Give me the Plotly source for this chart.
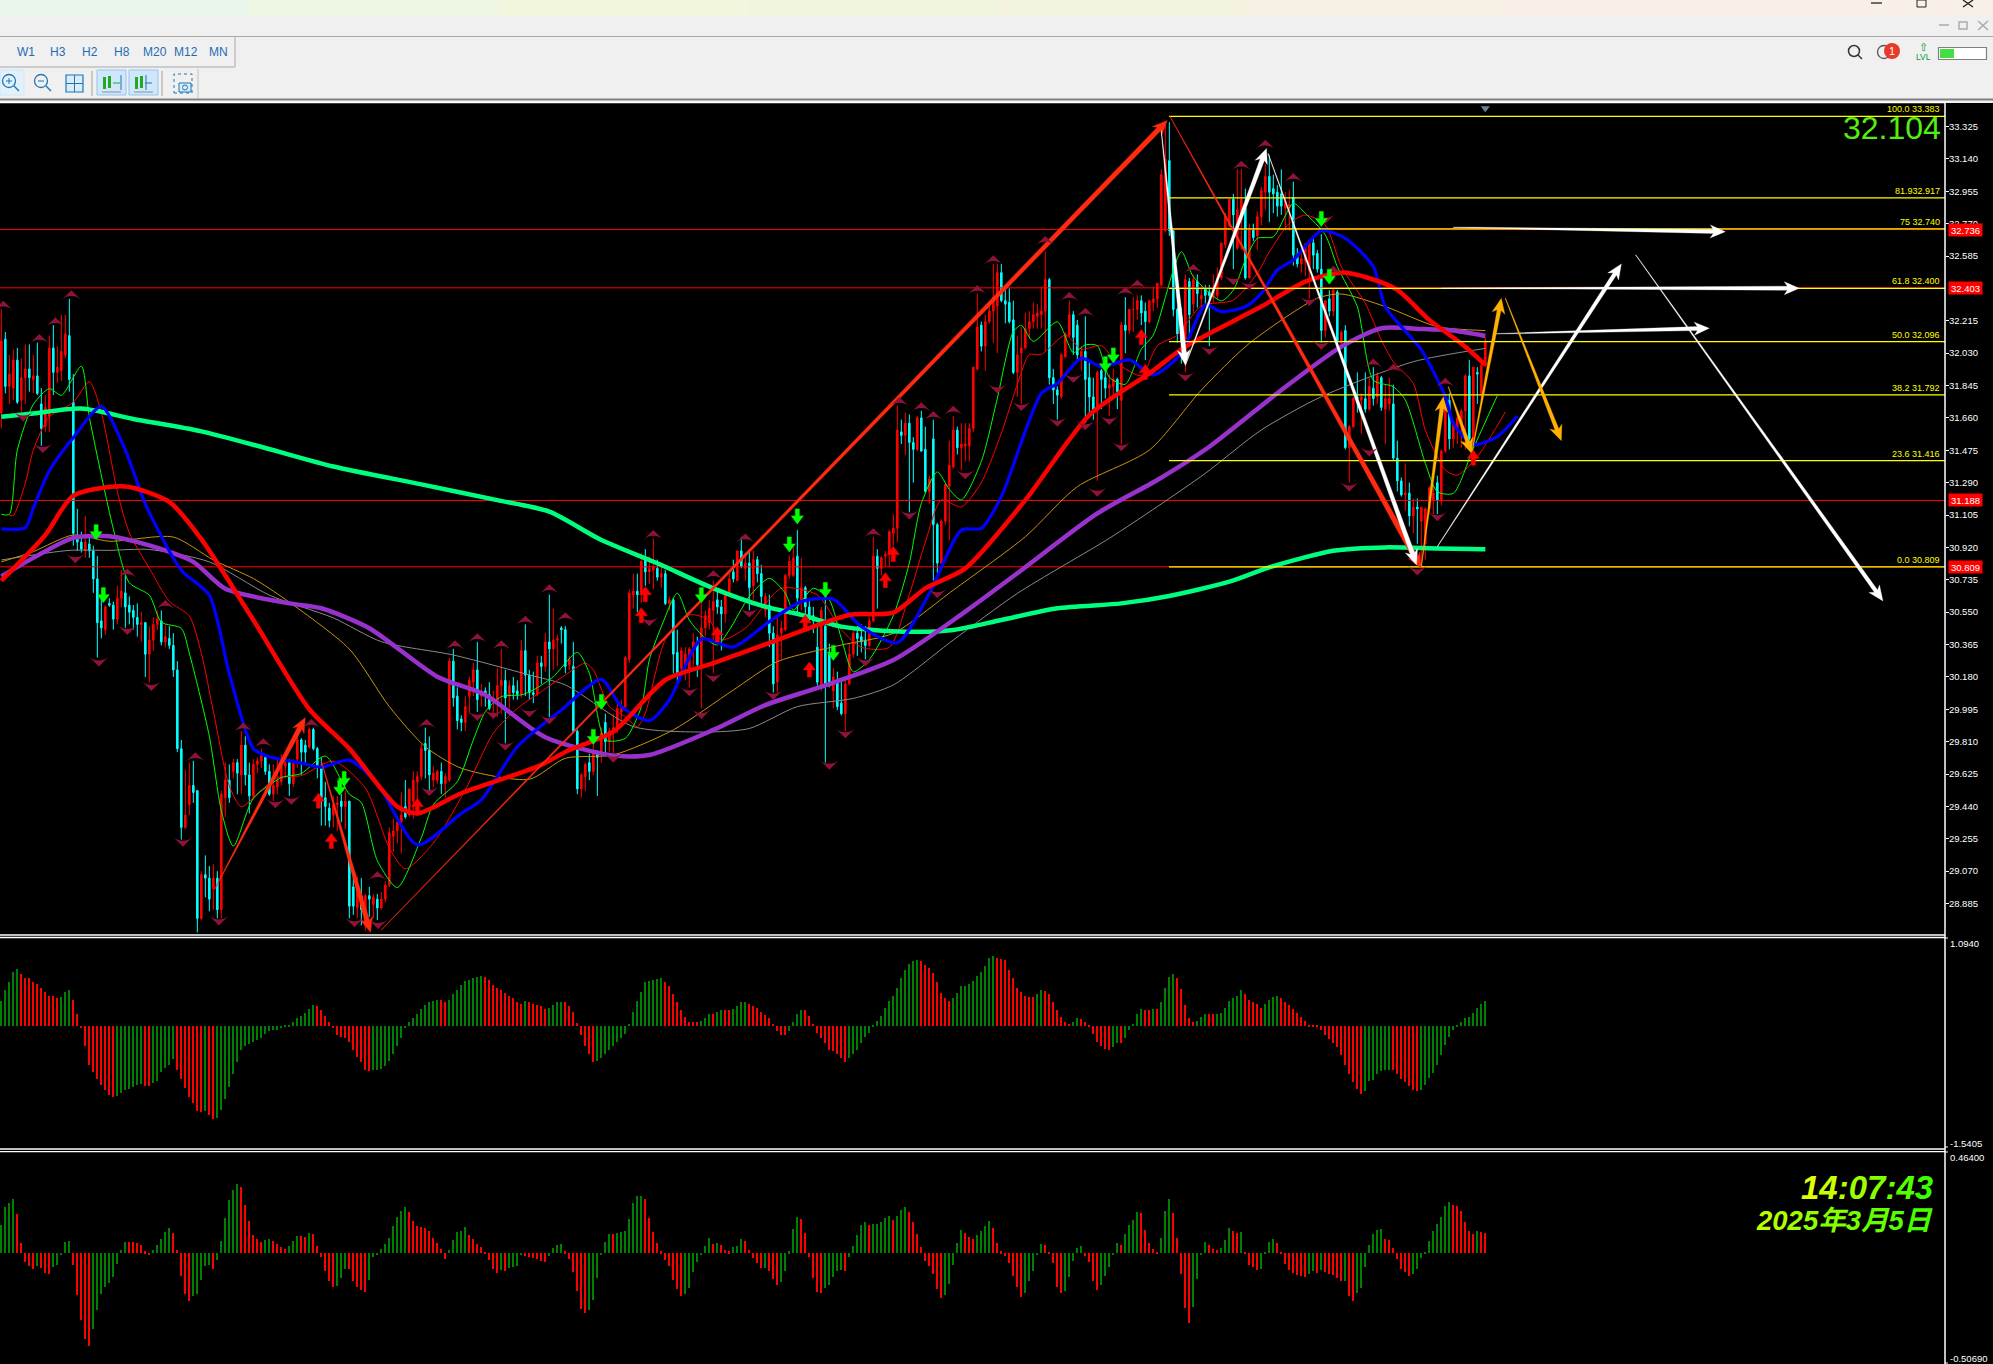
import plotly.graph_objects as go
import math

W, H = 1993, 1364
# ---------- candle data (price x 100), one row = 10 bars ----------
high = [
3228,3215,3202,3205,3206,3200,3208,3208,3202,3209,
3183,3179,3213,3219,3207,3225,3225,3234,3191,3114,
3101,3110,3098,3093,3087,3063,3059,3063,3061,3070,
3079,3076,3064,3059,3060,3055,3049,3047,3052,3056,
3056,3048,3047,3043,3027,2982,2965,2969,2970,2953,
2907,2916,2910,2911,2907,2953,2969,2968,2971,2971,
2987,2984,2969,2971,2972,2977,2974,2968,2968,2972,
2974,2972,2971,2971,2984,2983,2982,2989,2989,2978,
2972,2958,2946,2950,2950,2951,2953,2947,2906,2904,
2903,2894,2898,2894,2894,2895,2901,2932,2937,2937,
2952,2959,2954,2964,2964,2980,2989,2984,2967,2965,
2969,2963,3029,3034,3012,2996,3007,3018,3026,3038,
3014,3012,3015,3010,3023,3034,3022,3016,3018,3016,
3039,3048,3022,3021,3030,3030,3043,3065,3057,3042,
3047,3047,3030,3038,2988,2963,2969,2974,2982,2976,
2989,2997,2989,2997,3005,3005,3030,3068,3077,3077,
3089,3091,3087,3097,3085,3081,3079,3064,3063,3045,
3035,3035,3035,3043,3041,3060,3056,3062,3073,3067,
3062,3066,3077,3085,3090,3098,3089,3090,3090,3087,
3082,3066,3065,3047,3053,3050,3077,3087,3092,3102,
3086,3070,3062,3058,3047,3058,3062,3037,3023,3021,
3015,3017,3037,3047,3047,3048,3047,3052,3098,3091,
3087,3090,3102,3111,3173,3165,3169,3168,3155,3167,
3170,3161,3133,3165,3106,3108,3128,3153,3167,3161,
3163,3163,3163,3195,3237,3221,3225,3232,3254,3254,
3254,3239,3240,3233,3213,3218,3226,3227,3232,3231,
3241,3261,3246,3194,3184,3203,3215,3233,3227,3222,
3207,3224,3198,3189,3193,3194,3195,3191,3194,3189,
3221,3235,3228,3235,3236,3236,3232,3233,3241,3243,
3308,3335,3335,3273,3229,3229,3248,3246,3248,3248,
3242,3242,3242,3248,3252,3266,3283,3291,3294,3308,
3308,3297,3277,3277,3284,3298,3311,3316,3305,3299,
3308,3295,3296,3301,3263,3260,3266,3268,3270,3262,
3271,3233,3239,3240,3239,3216,3219,3162,3178,3192,
3180,3192,3189,3195,3192,3190,3185,3189,3185,3153,
3132,3140,3129,3120,3120,3115,3115,3127,3127,3133,
3148,3172,3180,3165,3168,3171,3191,3199,3195,3195,
3199,3212]
body_top = [
3210,3211,3191,3199,3199,3189,3194,3194,3190,3190,
3174,3172,3206,3206,3195,3204,3214,3213,3175,3097,
3095,3095,3094,3090,3074,3050,3058,3060,3059,3063,
3067,3066,3059,3056,3052,3049,3049,3039,3048,3051,
3050,3041,3040,3036,3022,2977,2939,2956,2956,2953,
2905,2905,2903,2903,2903,2951,2959,2959,2969,2969,
2979,2979,2962,2968,2970,2973,2972,2964,2956,2959,
2967,2969,2969,2970,2982,2982,2979,2988,2988,2977,
2966,2949,2943,2945,2946,2947,2947,2947,2898,2898,
2893,2893,2893,2892,2891,2891,2899,2929,2930,2935,
2939,2944,2954,2959,2961,2977,2980,2976,2963,2964,
2964,2961,3027,3027,3007,2994,3001,3016,3022,3022,
3009,3010,3008,3006,3013,3016,3016,3013,3013,3010,
3033,3033,3019,3009,3026,3026,3038,3038,3039,3040,
3046,3045,3028,3024,2987,2962,2968,2969,2975,2974,
2986,2992,2987,2989,3000,3000,3029,3066,3067,3067,
3084,3085,3080,3081,3080,3077,3077,3062,3062,3032,
3033,3031,3034,3038,3038,3046,3053,3057,3061,3062,
3058,3065,3074,3078,3090,3090,3083,3083,3085,3085,
3077,3064,3059,3043,3042,3046,3076,3084,3086,3087,
3069,3069,3058,3053,3035,3056,3047,3032,3018,3015,
3003,3014,3031,3043,3043,3041,3039,3050,3087,3087,
3086,3088,3101,3103,3159,3158,3163,3163,3152,3166,
3166,3148,3131,3154,3105,3107,3128,3139,3159,3159,
3151,3151,3160,3195,3218,3219,3221,3227,3235,3249,
3249,3233,3232,3222,3202,3206,3217,3221,3225,3226,
3227,3245,3245,3189,3182,3202,3214,3225,3225,3219,
3204,3204,3189,3178,3192,3193,3189,3185,3188,3188,
3219,3219,3228,3228,3233,3233,3227,3233,3234,3243,
3305,3314,3313,3273,3228,3224,3245,3244,3245,3244,
3236,3240,3238,3239,3246,3266,3281,3291,3291,3285,
3291,3286,3274,3274,3281,3296,3304,3304,3297,3295,
3294,3290,3288,3292,3259,3257,3265,3267,3266,3260,
3251,3233,3234,3239,3238,3215,3216,3161,3177,3178,
3178,3177,3184,3183,3190,3189,3177,3177,3174,3143,
3130,3123,3123,3115,3115,3115,3114,3126,3123,3129,
3147,3171,3176,3164,3166,3170,3190,3190,3195,3192,
3196,3210]
body_bot = [
3169,3184,3184,3183,3175,3176,3189,3189,3188,3180,
3160,3161,3167,3192,3192,3193,3202,3188,3100,3095,
3091,3090,3090,3074,3049,3046,3045,3059,3051,3051,
3063,3058,3055,3052,3048,3048,3031,3031,3039,3048,
3038,3038,3036,3022,2977,2932,2932,2945,2952,2880,
2880,2903,2891,2897,2885,2885,2949,2949,2964,2963,
2962,2962,2950,2950,2968,2970,2964,2951,2951,2955,
2958,2967,2957,2957,2971,2975,2975,2978,2977,2966,
2949,2944,2936,2939,2945,2944,2944,2887,2887,2886,
2885,2876,2891,2888,2886,2886,2891,2899,2927,2930,
2935,2938,2939,2947,2958,2961,2976,2962,2959,2959,
2957,2957,2959,3006,2993,2992,2992,3007,3015,3005,
3007,3008,3000,3004,3003,3013,3006,3007,3009,3008,
3008,3019,3009,3008,3008,3024,3024,3034,3034,3039,
3045,3024,3025,2987,2954,2954,2961,2964,2964,2972,
2975,2981,2981,2986,2989,2998,3001,3028,3065,3065,
3066,3078,3078,3079,3075,3075,3060,3060,3031,3019,
3023,3025,3022,3033,3025,3025,3046,3049,3056,3058,
3054,3054,3066,3074,3073,3081,3080,3069,3070,3077,
3064,3056,3043,3014,3015,3043,3045,3076,3076,3063,
3061,3058,3053,3050,3015,3013,3014,3013,3010,3001,
2997,2997,3014,3031,3040,3038,3036,3036,3050,3080,
3080,3087,3088,3100,3103,3156,3156,3152,3148,3148,
3147,3124,3124,3105,3083,3083,3107,3127,3138,3149,
3149,3150,3150,3160,3194,3207,3207,3221,3227,3230,
3233,3231,3221,3192,3192,3203,3206,3217,3221,3224,
3225,3227,3189,3182,3179,3178,3201,3213,3212,3202,
3201,3188,3178,3171,3171,3188,3183,3183,3184,3181,
3176,3216,3216,3228,3228,3226,3221,3221,3232,3234,
3242,3273,3273,3228,3214,3210,3201,3225,3231,3237,
3234,3236,3236,3235,3236,3246,3265,3276,3282,3263,
3279,3246,3246,3269,3270,3281,3295,3295,3294,3287,
3287,3286,3286,3259,3254,3254,3256,3250,3259,3251,
3216,3216,3227,3227,3210,3209,3149,3149,3161,3177,
3176,3171,3171,3177,3178,3172,3171,3174,3143,3130,
3122,3122,3110,3110,3114,3107,3094,3114,3119,3119,
3119,3147,3154,3154,3159,3162,3170,3154,3153,3191,
3180,3196]
low = [
3160,3180,3174,3176,3174,3169,3174,3181,3180,3179,
3150,3158,3158,3179,3186,3187,3200,3181,3093,3090,
3089,3086,3086,3066,3029,3040,3042,3058,3045,3048,
3058,3046,3048,3045,3041,3038,3018,3015,3033,3045,
3036,3035,3034,3018,2975,2925,2931,2939,2946,2872,
2879,2892,2884,2885,2880,2880,2938,2946,2960,2951,
2951,2956,2940,2948,2963,2966,2962,2950,2947,2951,
2956,2960,2950,2955,2966,2962,2969,2977,2976,2960,
2933,2933,2932,2932,2930,2935,2931,2880,2882,2880,
2876,2873,2881,2880,2879,2885,2889,2898,2918,2923,
2917,2937,2938,2937,2946,2959,2960,2953,2955,2957,
2951,2949,2958,3001,2988,2987,2987,2997,3007,2998,
3001,3001,2999,2995,2995,2997,2980,3000,3005,3005,
3006,3007,3005,3003,3007,3014,3021,2995,3022,3024,
3037,3020,3022,2986,2951,2949,2953,2959,2962,2950,
2969,2974,2975,2974,2986,2990,2999,3026,3057,3055,
3060,3070,3071,3068,3073,3069,3059,3056,3020,3015,
3019,3016,3012,3024,3018,3000,3041,3045,3020,3054,
3033,3049,3065,3072,3073,3080,3073,3056,3062,3072,
3060,3052,3035,3009,3009,3028,3044,3074,3075,3055,
3056,3054,3049,3043,3013,3010,2969,3012,3000,2999,
2996,2987,3013,3029,3030,3032,3028,3035,3049,3057,
3076,3081,3081,3093,3095,3151,3145,3112,3129,3147,
3147,3123,3117,3073,3077,3081,3105,3096,3137,3145,
3136,3141,3141,3158,3193,3204,3193,3220,3209,3203,
3232,3220,3220,3191,3178,3174,3205,3211,3217,3217,
3217,3204,3185,3174,3165,3177,3200,3212,3202,3199,
3193,3163,3167,3165,3130,3171,3177,3167,3179,3171,
3151,3203,3214,3215,3222,3219,3199,3220,3227,3229,
3241,3272,3270,3224,3209,3197,3192,3212,3226,3229,
3228,3231,3207,3232,3234,3245,3263,3275,3251,3262,
3262,3245,3246,3267,3262,3276,3285,3278,3283,3281,
3282,3273,3273,3253,3252,3249,3247,3234,3251,3249,
3209,3212,3224,3224,3207,3207,3148,3129,3160,3169,
3157,3169,3170,3173,3174,3170,3151,3170,3142,3124,
3121,3113,3104,3100,3094,3081,3085,3111,3111,3111,
3116,3146,3148,3149,3151,3149,3148,3151,3151,3174,
3174,3195]
candle_colour = ("rcrrcrrcrc" "crrcrrrccc" "crccccrccr" "rccccrcrrr" "crccccrrcc"
    "rccrcrrcrc" "rccrrrccrr" "rrcrrccrcc" "cccrrcrccr" "crcrcrrrrr" "rcrrrrccrr"
    "crrcccrrrc" "rccrrrcrcc" "rcccrcrcrr" "ccrccrrcrc" "rcrrrrrrrc" "rcrrcrcrcc"
    "rrrrcrrrrc" "crrcrcrcrc" "crccrrrrrc" "rccccrccrc" "crrrcccrrc" "rrrrrcrccr"
    "ccrccrrrrc" "rrrrrcrrrr" "ccccrrrrrr" "rrcccrrrcc" "rcccrccrrc" "rcrrrccrrr"
    "rrccccrcrc" "rccrrrrrcr" "rcrcrrrccc" "crrccrrrcc" "crcrcrcrrc" "rcrcrcrrcc"
    "crcrcrrrrc" "rrcrrrrcrc" "rr")

# ---------- indicator histograms ----------
macd_hist = [
31,45,55,67,71,65,60,59,55,52,47,42,37,37,34,36,42,45,32,15,
-3,-26,-49,-58,-67,-74,-81,-87,-89,-88,-84,-81,-79,-77,-74,-73,-75,-76,-72,-69,
-58,-53,-49,-42,-55,-67,-78,-89,-97,-106,-108,-107,-111,-117,-115,-105,-92,-77,-61,-45,
-31,-26,-23,-21,-18,-15,-10,-7,-6,-5,-3,-2,-1,4,9,12,16,21,26,24,
20,12,4,-3,-12,-14,-15,-20,-30,-39,-46,-56,-57,-56,-55,-54,-50,-44,-35,-25,
-15,-3,4,9,14,21,26,30,31,32,32,29,32,39,45,51,56,57,60,61,
62,61,57,51,47,45,41,37,35,29,27,31,29,27,26,24,21,22,26,29,
30,29,25,17,3,-12,-26,-36,-45,-44,-40,-35,-30,-26,-21,-16,-10,1,17,31,
42,54,56,57,58,59,54,50,40,30,20,11,5,5,5,6,10,15,15,17,
19,19,19,21,24,29,30,27,25,22,17,13,9,1,-7,-12,-12,-7,4,14,
19,19,12,1,-9,-15,-22,-30,-32,-35,-40,-45,-40,-36,-30,-22,-14,-9,-1,6,
12,22,31,37,47,59,70,77,81,82,81,76,72,66,54,41,35,31,34,41,
49,50,52,56,62,67,75,84,87,85,83,82,70,60,47,42,37,36,36,39,
44,43,40,30,20,11,4,2,5,9,8,4,-2,-11,-21,-26,-29,-30,-27,-22,
-22,-15,-6,2,14,21,20,20,21,21,30,47,61,64,59,46,26,9,5,6,
11,14,14,14,15,16,22,31,34,37,44,40,32,30,27,22,27,32,36,37,
35,30,26,21,16,11,6,-1,-1,-2,-6,-12,-17,-22,-27,-37,-49,-60,-71,-79,
-85,-82,-69,-68,-60,-57,-56,-55,-56,-60,-67,-70,-76,-81,-82,-81,-74,-65,-59,-49,
-37,-24,-14,-5,-2,5,9,11,16,22,27,31]
osc_hist = [
128,211,229,247,179,46,-41,-60,-73,-60,-69,-92,-96,-64,-55,-9,50,55,-55,-192,
-307,-394,-426,-348,-261,-186,-156,-137,-110,-50,14,50,50,50,49,37,9,-5,14,37,
64,96,115,92,14,-105,-188,-220,-197,-188,-124,-60,-55,-73,-32,55,160,243,289,316,
302,220,147,82,64,50,60,64,55,41,27,18,32,55,78,78,77,92,87,32,
-18,-82,-128,-156,-151,-115,-73,-73,-128,-156,-169,-179,-124,-18,-9,18,41,69,124,165,
192,211,188,147,124,119,115,101,69,46,18,-27,14,60,96,101,119,82,64,41,
27,5,-32,-73,-92,-78,-79,-69,-64,-60,-9,-14,-18,-23,-27,-37,-41,-14,23,37,
41,9,-27,-87,-174,-257,-273,-260,-215,-115,-9,50,87,87,92,96,101,156,229,261,
262,247,160,96,46,9,-32,-60,-124,-165,-197,-188,-160,-87,-41,-5,32,69,41,46,
37,14,9,27,32,64,55,14,-23,-46,-69,-68,-82,-119,-147,-133,-82,9,110,165,
156,92,-18,-115,-179,-183,-160,-147,-110,-82,-78,-82,-18,32,82,128,142,128,133,134,
142,160,169,151,169,197,211,188,142,87,27,-37,-60,-96,-165,-206,-192,-142,-55,46,
105,92,73,64,82,101,124,147,115,46,9,-14,-46,-105,-156,-202,-183,-128,-82,-9,
41,37,5,-46,-156,-183,-174,-110,-37,23,32,-14,-41,-128,-169,-147,-105,-64,-5,46,
37,87,128,151,188,183,105,46,18,5,69,192,247,183,69,-96,-252,-321,-247,-119,
-9,50,37,18,14,23,60,115,101,92,96,5,-55,-64,-78,-73,5,50,64,46,
5,-50,-78,-92,-101,-105,-110,-96,-82,-92,-78,-87,-96,-101,-115,-128,-127,-197,-220,-183,
-160,-64,37,87,105,110,64,63,23,-27,-73,-87,-105,-96,-73,-23,5,55,101,133,
165,215,234,220,215,192,142,101,87,101,96,92]

# ---------- moving averages: bar index / price ----------
ma_green_i = [0,8,20,33,50,66,83,105,124,137,150,164,178,191,200,210,226,238,250,264,280,292,307,317,333,346,359,371]
ma_green_p = [31.666,31.685,31.713,31.654,31.583,31.488,31.382,31.280,31.19,31.124,30.962,30.829,30.686,30.581,30.534,30.467,30.438,30.448,30.505,30.572,30.60,30.642,30.724,30.806,30.901,30.920,30.914,30.909]
ma_purple_i = [0,8,18,27,37,48,56,72,80,92,109,121,136,153,162,178,191,205,223,241,254,274,289,302,320,335,345,355,363,371]
ma_purple_p = [30.754,30.860,30.974,30.984,30.931,30.837,30.683,30.600,30.572,30.458,30.181,30.077,29.835,29.730,29.734,29.877,30.019,30.124,30.276,30.553,30.772,31.114,31.305,31.495,31.819,32.067,32.172,32.168,32.159,32.128]
ma_red_i = [0,11,18,31,42,50,63,77,87,99,104,115,134,142,153,166,178,194,212,223,231,241,256,272,287,296,315,326,335,342,349,357,366,371]
ma_red_p = [30.730,30.991,31.216,31.268,31.180,30.967,30.505,29.995,29.770,29.439,29.40,29.515,29.667,29.762,29.867,30.162,30.258,30.391,30.534,30.547,30.686,30.80,31.19,31.676,31.914,32.067,32.296,32.439,32.490,32.458,32.391,32.220,32.067,31.963]
ma_blue_i = [0,6,8,12,18,25,31,36,45,52,57,63,67,75,80,87,94,104,115,120,129,140,150,155,162,167,175,183,192,200,208,215,224,232,240,245,250,260,264,270,275,282,288,295,301,305,311,315,319,323,330,336,343,346,355,361,363,368,374,379]
ma_blue_p = [31.026,31.033,31.145,31.358,31.548,31.725,31.476,31.168,30.789,30.647,30.197,29.770,29.723,29.687,29.664,29.704,29.569,29.220,29.40,29.477,29.781,29.991,30.166,30.010,29.930,30.048,30.395,30.350,30.496,30.610,30.623,30.467,30.375,30.657,31.019,31.029,31.210,31.800,31.857,32.0,31.953,31.991,31.905,32.03,32.305,32.267,32.295,32.371,32.505,32.562,32.729,32.686,32.524,32.295,32.048,31.781,31.629,31.508,31.553,31.671]
thin_lime_i = [0,2,4,8,12,15,20,22,28,32,37,40,45,47,52,55,58,63,70,75,81,87,90,94,99,105,108,114,118,121,125,130,133,138,144,147,151,156,160,162,165,169,172,176,179,182,187,192,196,198,203,207,210,213,217,223,227,230,234,237,240,245,249,253,255,258,264,268,271,274,277,281,285,288,295,298,305,308,311,314,318,323,326,331,334,339,343,348,351,356,359,363,368,374]
thin_lime_p = [31.109,31.109,31.476,31.737,31.827,31.789,31.955,31.666,31.026,30.718,30.647,30.493,30.457,30.315,29.841,29.415,29.213,29.486,29.604,29.628,29.728,29.510,29.462,29.130,28.976,29.261,29.45,29.581,29.82,29.981,30.067,30.077,30.105,30.181,30.320,30.201,29.820,29.829,30.010,30.277,30.467,30.658,30.505,30.40,30.362,30.448,30.639,30.743,30.658,30.562,30.686,30.620,30.40,30.209,30.279,30.530,30.830,31.171,31.351,31.251,31.191,31.411,31.772,32.153,32.189,32.097,32.209,32.033,32.077,32.073,31.892,31.852,32.053,32.133,32.609,32.467,32.329,32.390,32.562,32.686,32.695,32.886,32.829,32.705,32.524,32.295,31.876,31.838,31.762,31.400,31.238,31.229,31.486,31.787]
thin_red_i = [2,3,6,8,12,18,22,25,29,32,37,42,47,50,53,57,60,65,69,75,83,91,97,101,108,116,123,129,135,141,146,148,152,156,159,161,166,172,177,180,186,195,204,210,215,222,227,231,235,240,245,250,254,257,260,266,270,275,279,285,289,294,300,308,314,317,322,326,331,335,341,345,348,353,356,361,364,369,376]
thin_red_p = [31.102,31.102,31.287,31.476,31.666,31.749,31.867,31.690,31.239,31.003,30.801,30.612,30.528,30.315,29.984,29.557,29.438,29.533,29.604,29.616,29.699,29.545,29.202,29.083,29.23,29.534,29.858,30.0,30.096,30.191,30.258,30.220,30.01,29.953,29.896,29.972,30.391,30.534,30.505,30.391,30.458,30.686,30.648,30.45,30.349,30.349,30.650,30.950,31.191,31.151,31.291,31.572,31.852,32.022,32.022,32.133,32.053,32.073,31.972,31.902,32.073,32.133,32.30,32.333,32.486,32.609,32.771,32.819,32.762,32.524,32.314,32.105,31.981,31.857,31.590,31.362,31.333,31.438,31.694]
thin_orange_i = [0,8,18,27,43,53,63,71,87,97,106,115,132,141,153,168,183,194,210,223,238,256,269,287,300,312,329,335,346,359,371]
thin_orange_p = [30.837,30.896,30.991,30.955,30.979,30.848,30.742,30.623,30.339,30.010,29.781,29.658,29.595,29.715,29.734,29.877,30.105,30.267,30.362,30.429,30.676,30.981,31.267,31.476,31.819,32.086,32.344,32.368,32.296,32.181,32.159]
thin_grey_i = [0,17,27,37,52,67,83,95,113,132,141,158,176,187,199,213,223,238,254,277,289,301,315,330,353,371]
thin_grey_p = [30.848,30.903,30.903,30.908,30.837,30.647,30.517,30.381,30.305,30.191,30.134,29.896,29.865,29.885,30.010,30.057,30.134,30.391,30.657,30.972,31.153,31.343,31.591,31.781,31.981,32.057]

# ---------- levels ----------
red_levels = [32.736, 32.403, 31.188, 30.809]
fib_levels = [33.383, 32.917, 32.740, 32.400, 32.096, 31.792, 31.416, 30.809]
fib_labels = ["100.0 33.383", "81.932.917", "75 32.740", "61.8 32.400", "50.0 32.096", "38.2 31.792", "23.6 31.416", "0.0 30.809"]
price_ticks = [33.325,33.140,32.955,32.770,32.585,32.215,32.030,31.845,31.660,31.475,31.290,31.105,30.920,30.735,30.550,30.365,30.180,29.995,29.810,29.625,29.440,29.255,29.070,28.885]

# ---------- hand-drawn arrows: start bar, start price, end bar, end price, colour, width at head ----------
arrows = [
 (53.3,28.965,76,29.948,"#ff2a10",5),
 (80,29.70,92.3,28.72,"#ff2a10",5),
 (95,28.734,291.5,33.36,"#ff2a10",5),
 (292.2,33.381,355,30.80,"#ff2a10",5.5),
 (290,33.30,296,31.962,"#ffffff",4.5),
 (296,31.96,316.3,33.20,"#ffffff",4.5),
 (316.7,33.17,353.8,30.82,"#ffffff",4.5),
 (359,30.924,405,32.54,"#ffffff",4),
 (408.6,32.591,470.4,30.614,"#ffffff",4),
 (363,32.749,431,32.724,"#ffffff",4),
 (360,32.401,449.5,32.401,"#ffffff",4),
 (373,32.140,427,32.172,"#ffffff",4),
 (355,30.809,360.5,31.781,"#ffb000",4),
 (361.75,31.838,367.6,31.457,"#ffb000",4),
 (367.6,31.457,375,32.343,"#ffb000",4),
 (376,32.344,390,31.530,"#ffb000",4),
]

# ---------- signal marks ----------
frac_up_i = [0.5,9.5,13.5,17.5,31.5,41,48.5,60.5,65.5,77.5,94,106.3,113.4,119,125,131,137,141,163,178,186,218,224.5,230,233,238,244,248,261,267,271,281,284,298,310,316,323,333,343,348,361]
frac_up_p = [32.33,32.14,32.235,32.39,30.80,30.62,29.75,29.92,29.83,29.94,29.07,29.94,30.39,30.43,30.39,30.53,30.71,30.55,31.02,30.79,31.0,31.03,31.78,31.75,31.70,31.73,32.42,32.59,32.70,32.38,32.29,32.41,32.45,32.54,33.13,33.25,33.06,32.53,32.0,31.97,31.89]
frac_dn_i = [5.5,10.4,18.5,24.4,31.5,37.5,45.4,54.4,68.5,72.5,88.3,94.2,107,119,123,126,132,137,153,162,172,175,178,187,193,207,211,216,227,234,241,249,255,264,268,271,274,277,280,296,302,308,312,327,330,331,337,342,354,359]
frac_dn_p = [31.64,31.46,30.83,30.24,30.42,30.10,29.21,28.76,29.43,29.45,28.75,28.74,29.50,29.93,29.94,29.76,29.95,29.91,29.69,30.47,30.07,29.94,30.15,30.52,30.05,29.65,29.83,30.24,31.08,30.63,31.31,31.80,31.70,31.61,31.86,31.59,31.21,31.62,31.47,31.87,32.02,32.42,32.39,32.30,32.05,32.77,31.24,31.44,30.76,31.07]
sig_down_i = [23.7,25.5,85.7,84.6,199,197,206,175,150,148,208,276,278,330,332]
sig_down_p = [31.01,30.65,29.60,29.55,31.10,30.94,30.68,30.65,30.04,29.84,30.32,31.97,32.02,32.80,32.47]
sig_up_i = [79.3,82.5,104,160,161,179,201,202,221,223,285,286,368]
sig_up_p = [29.47,29.24,29.44,30.53,30.65,30.42,30.49,30.22,30.73,30.88,32.12,31.92,31.43]

timeframes = ["W1","H3","H2","H8","M20","M12","MN"]
last_price = "32.104"
clock_text = "14:07:43"
date_text = "2025年3月5日"

# ---------- layout geometry ----------
PX_BAR, PX_PRICE = 4.0, 175.0
AXIS_X = 1945
def X(px): return px / W
def Y(py): return 1 - py / H
xrange_ = [-0.333, (AXIS_X - 1.33) / PX_BAR]
fig = go.Figure()
FONT = "Liberation Sans"

idx = list(range(len(high)))
opens, closes = [], []
for c, t, b in zip(candle_colour, body_top, body_bot):
    opens.append((b if c == "r" else t) / 100)
    closes.append((t if c == "r" else b) / 100)

for lv in red_levels:
    fig.add_trace(go.Scatter(x=xrange_, y=[lv, lv], mode="lines", line=dict(color="#ff0000", width=1), hoverinfo="skip"))

fig.add_trace(go.Candlestick(x=idx, open=opens, close=closes,
    high=[v / 100 for v in high], low=[v / 100 for v in low],
    increasing=dict(line=dict(color="#ff0000", width=1), fillcolor="#ff0000"),
    decreasing=dict(line=dict(color="#00ffff", width=1), fillcolor="#00ffff"),
    whiskerwidth=0, hoverinfo="skip"))

def add_line(xs, ys, color, width, shape="spline"):
    fig.add_trace(go.Scatter(x=xs, y=ys, mode="lines", hoverinfo="skip",
        line=dict(color=color, width=width, shape=shape, smoothing=0.7)))

add_line(thin_grey_i, thin_grey_p, "#8a8a8a", 1)
add_line(thin_orange_i, thin_orange_p, "#c8960b", 1)
add_line(thin_red_i, thin_red_p, "#ff0000", 1)
add_line(thin_lime_i, thin_lime_p, "#00ff00", 1)
add_line(ma_green_i, ma_green_p, "#00ff7f", 4.5)
add_line(ma_purple_i, ma_purple_p, "#9932cc", 4.5)
add_line(ma_blue_i, ma_blue_p, "#0000ff", 3.2)
add_line(ma_red_i, ma_red_p, "#ff0000", 4.5)

fib_start = (1169 - 1.33) / PX_BAR
for lv, lab in zip(fib_levels, fib_labels):
    fig.add_trace(go.Scatter(x=[fib_start, xrange_[1]], y=[lv, lv], mode="lines",
        line=dict(color="#ffff00", width=1.2), hoverinfo="skip"))
    fig.add_annotation(x=X(1941), xref="paper", y=lv, yref="y", yshift=1, text=lab, showarrow=False,
        xanchor="right", yanchor="bottom", font=dict(family=FONT, size=9, color="#ffff00"), borderpad=0)

def arrow_polygon(x0, y0, x1, y1, w1, head_len=15, head_half=6.5, notch=3):
    dx, dy = (x1 - x0) * PX_BAR, (y1 - y0) * PX_PRICE
    n = math.hypot(dx, dy)
    ux, uy = dx / n, dy / n
    px_, py_ = -uy, ux
    def pt(along, side):
        return (x0 + (along * ux + side * px_) / PX_BAR, y0 + (along * uy + side * py_) / PX_PRICE)
    base = n - head_len
    pts = [pt(0, 0.25), pt(base + notch, w1 / 2), pt(base, head_half), pt(n, 0), pt(base, -head_half), pt(base + notch, -w1 / 2), pt(0, -0.25), pt(0, 0.25)]
    return [p[0] for p in pts], [p[1] for p in pts]

for a in arrows:
    xs, ys = arrow_polygon(a[0], a[1], a[2], a[3], a[5])
    fig.add_trace(go.Scatter(x=xs, y=ys, mode="lines", fill="toself", fillcolor=a[4],
        line=dict(color=a[4], width=0.3), hoverinfo="skip"))

fig.add_trace(go.Scatter(x=frac_up_i, y=frac_up_p, mode="markers", hoverinfo="skip",
    marker=dict(symbol="arrow-wide", size=14, color="#8f1238", line=dict(width=0))))
fig.add_trace(go.Scatter(x=frac_dn_i, y=frac_dn_p, mode="markers", hoverinfo="skip",
    marker=dict(symbol="arrow-wide", angle=180, size=14, color="#8f1238", line=dict(width=0))))

def block_arrows(xs, ys, direction, color):
    """direction +1 points towards lower prices, -1 towards higher prices"""
    px, py = [], []
    outline = [(-2, -7), (2, -7), (2, 0), (6, 0), (0, 8), (-6, 0), (-2, 0), (-2, -7)]
    for x, y in zip(xs, ys):
        for ox, oy in outline:
            px.append(x + ox / PX_BAR)
            py.append(y - direction * oy / PX_PRICE)
        px.append(None); py.append(None)
    fig.add_trace(go.Scatter(x=px, y=py, mode="lines", fill="toself", fillcolor=color,
        line=dict(color=color, width=0.5), hoverinfo="skip"))

block_arrows(sig_up_i, sig_up_p, -1, "#ff0000")
block_arrows(sig_down_i, sig_down_p, 1, "#00ff00")
fig.add_trace(go.Scatter(x=[371], y=[33.43], mode="markers", hoverinfo="skip",
    marker=dict(symbol="triangle-down", size=8, color="#708090", line=dict(width=0))))

def hist(values, scale, xa, ya):
    vals = [v / scale for v in values]
    colors = ["#008000" if i == 0 or v > vals[i - 1] else "#ff0000" for i, v in enumerate(vals)]
    fig.add_trace(go.Bar(x=idx, y=vals, width=0.5, marker=dict(color=colors, line=dict(width=0)),
        xaxis=xa, yaxis=ya, hoverinfo="skip"))

hist(macd_hist, 100, "x2", "y2")
hist(osc_hist, 1000, "x3", "y3")

# ---------- chrome shapes ----------
shapes = []
def rect(x0, y0, x1, y1, fill=None, line=None, lw=1, dash=None):
    shapes.append(dict(type="rect", xref="paper", yref="paper", x0=X(x0), x1=X(x1), y0=Y(y1), y1=Y(y0),
        fillcolor=fill or "rgba(0,0,0,0)", line=dict(color=line or "rgba(0,0,0,0)", width=lw if line else 0, dash=dash or "solid"), layer="above"))
def seg(x0, y0, x1, y1, color, lw=1):
    shapes.append(dict(type="line", xref="paper", yref="paper", x0=X(x0), x1=X(x1), y0=Y(y0), y1=Y(y1),
        line=dict(color=color, width=lw), layer="above"))
def circ(cx, cy, r, fill=None, line=None, lw=1):
    shapes.append(dict(type="circle", xref="paper", yref="paper", x0=X(cx - r), x1=X(cx + r), y0=Y(cy + r), y1=Y(cy - r),
        fillcolor=fill or "rgba(0,0,0,0)", line=dict(color=line or "rgba(0,0,0,0)", width=lw if line else 0), layer="above"))

rect(0, 0, W, 103, fill="#f0f0f0")
bands = ["#e9f6ec", "#eef6e4", "#f2f6dc", "#f2f5dd", "#f4f3e0", "#f6f1e4", "#f8f0e6", "#f8f0e6"]
for k, c in enumerate(bands):
    rect(k * W / len(bands), 0, (k + 1) * W / len(bands), 16, fill=c)
seg(0, 36.5, W, 36.5, "#a8a8a8", 1.2)
seg(235, 37, 235, 67, "#a8a8a8", 1)
seg(0, 67, 235, 67, "#a8a8a8", 1)
seg(0, 99.5, W, 99.5, "#808080", 2)
seg(0, 102.5, AXIS_X, 102.5, "#ffffff", 1.5)
seg(AXIS_X, 102, AXIS_X, H, "#ffffff", 1.5)
for yy in (935, 937.5, 1149, 1151.7):
    seg(0, yy, AXIS_X, yy, "#ffffff", 1.3)

# toolbar icons
rect(0, 70, 24, 95, fill="#e3f1fb", line="#cfe6f7")
circ(9, 81, 6.5, line="#1f77b4", lw=1.3)
seg(6, 81, 12, 81, "#1f77b4"); seg(9, 78, 9, 84, "#1f77b4"); seg(14, 86, 19, 91, "#1f77b4", 1.4)
circ(41, 81, 6.5, line="#1f77b4", lw=1.3)
seg(38, 81, 44, 81, "#1f77b4"); seg(46, 86, 51, 91, "#1f77b4", 1.4)
rect(66, 75, 83, 92, line="#1f77b4", fill="#d8ecfa", lw=1.2)
seg(74.5, 75, 74.5, 92, "#1f77b4"); seg(66, 83.5, 83, 83.5, "#1f77b4")
seg(92, 71, 92, 96, "#a0a0a0")
for x0, d in ((97, 1), (129, -1)):
    rect(x0, 70, x0 + 29, 95, fill="#cfe6fb", line="#90c8f0")
    rect(x0 + 6, 77, x0 + 9, 89, fill="#22aa22"); rect(x0 + 11, 76, x0 + 14, 88, fill="#22aa22")
    seg(x0 + 5, 92, x0 + 24, 92, "#909090")
    seg(x0 + 24 if d == 1 else x0 + 17, 75, x0 + 24 if d == 1 else x0 + 17, 90, "#1f77b4")
    seg(x0 + 16, 83, x0 + 23, 83, "#22aa22" if d == 1 else "#1f77b4")
seg(162, 71, 162, 96, "#a0a0a0")
rect(174, 74, 192, 93, line="#1f77b4", lw=1, dash="dot")
rect(179, 83, 191, 92, fill="#d8ecfa", line="#1f77b4")
circ(185, 87.5, 2.5, line="#1f77b4")
seg(198, 69, 198, 98, "#c0c0c0")

# right-hand window icons
seg(1871, 3, 1882, 3, "#222222", 1.3)
rect(1917, 0, 1926, 7, line="#222222")
seg(1963, 0, 1973, 7, "#222222", 1.3); seg(1973, 0, 1963, 7, "#222222", 1.3)
seg(1939, 25, 1949, 25, "#aaaaaa", 1.5)
rect(1959, 22, 1967, 29, line="#aaaaaa", lw=1.5)
seg(1978, 21, 1988, 30, "#aaaaaa", 1.5); seg(1988, 21, 1978, 30, "#aaaaaa", 1.5)
circ(1854, 51, 5.5, line="#333333", lw=1.5)
seg(1858, 55, 1862, 59, "#333333", 1.5)
circ(1884, 52, 6.5, line="#555555", lw=1.3)
circ(1892, 51, 8, fill="#e63a2a")
rect(1938.5, 47.5, 1986.5, 59.5, fill="#ffffff", line="#808080", lw=1.2)
rect(1940, 49, 1954, 58, fill="#44dd44")

ann = []
def txt(px, py, s, size, color, anchor="center", family=FONT):
    ann.append(dict(x=X(px), y=Y(py), xref="paper", yref="paper", text=s, showarrow=False, xanchor=anchor,
        yanchor="middle", font=dict(family=family, size=size, color=color), borderpad=0))

for px, lab in zip((26, 58, 90, 122, 155, 186, 218), timeframes):
    txt(px, 52.5, lab, 12, "#1f6db0")
txt(1892, 51, "1", 11, "#ffffff")
txt(1923, 57, "LVL", 8.5, "#0a9a40")
txt(1923, 47, "⇧", 11, "#0a9a40")
txt(1942, 128, last_price, 32, "#55ee11", "right")

def gradient(text, c0, c1):
    out = ""
    n = max(len(text) - 1, 1)
    for k, ch in enumerate(text):
        t = k / n
        c = [round(a + (b - a) * t) for a, b in zip(c0, c1)]
        out += f'<span style="color:rgb({c[0]},{c[1]},{c[2]})">{ch}</span>'
    return "<b><i>" + out + "</i></b>"

txt(1934, 1187, gradient(clock_text, (225, 255, 0), (60, 255, 0)), 33, "#aaff00", "right")
txt(1934, 1220, gradient(date_text, (190, 255, 0), (70, 255, 0)), 27.5, "#aaff00", "right", "Liberation Sans, Noto Sans CJK SC")
for py, s in ((943, "1.0940"), (1143, "-1.5405"), (1157, "0.46400"), (1358, "-0.50690")):
    txt(1949, py, s, 9.5, "#ffffff", "left")
for py in (938, 1147, 1152, 1363):
    seg(AXIS_X, py, AXIS_X + 3, py, "#ffffff", 1)

# price tags on the axis
for lv, s in zip(red_levels, ["32.736", "32.403", "31.188", "30.809"]):
    ann.append(dict(x=X(1948), xref="paper", y=lv, yref="y", text=s, showarrow=False, xanchor="left", yanchor="middle",
        font=dict(family=FONT, size=9.5, color="#ffffff"), bgcolor="#ff0000", width=33, height=12, borderpad=0))

main_top, main_bot = 103, 935
pan2_top, pan2_bot = 938, 1149
pan3_top, pan3_bot = 1152, 1364
def price_at(py): return 33.325 - (py - 126.5) / PX_PRICE
xcommon = dict(range=xrange_, visible=False, fixedrange=True)
ycommon = dict(side="right", showgrid=False, zeroline=False, fixedrange=True)

layout_ann = list(fig.layout.annotations) + ann
fig.update_layout(
    width=W, height=H, autosize=False, margin=dict(l=0, r=0, t=0, b=0),
    paper_bgcolor="#000000", plot_bgcolor="#000000", showlegend=False, boxgap=0.45,
    font=dict(family=FONT),
    xaxis=dict(domain=[0, AXIS_X / W], anchor="y", rangeslider=dict(visible=False), **xcommon),
    xaxis2=dict(domain=[0, AXIS_X / W], anchor="y2", **xcommon),
    xaxis3=dict(domain=[0, AXIS_X / W], anchor="y3", **xcommon),
    yaxis=dict(domain=[Y(main_bot), Y(main_top)], range=[price_at(main_bot), price_at(main_top)], anchor="x",
        tickmode="array", tickvals=price_ticks, ticktext=[f"{v:.3f}" for v in price_ticks],
        tickfont=dict(family=FONT, size=9.5, color="#ffffff"), ticks="outside", ticklen=3, tickcolor="#ffffff",
        ticklabelstandoff=-2, **ycommon),
    yaxis2=dict(domain=[Y(pan2_bot), Y(pan2_top)], range=[-1.5405, 1.094], anchor="x2", showticklabels=False, **ycommon),
    yaxis3=dict(domain=[Y(pan3_bot), Y(pan3_top)], range=[-0.5069, 0.464], anchor="x3", showticklabels=False, **ycommon),
    shapes=shapes, annotations=layout_ann, bargap=0,
)
fig.write_html("out.html", config=dict(displayModeBar=False),
               post_script="document.body.style.margin='0';document.body.style.overflow='hidden';")
